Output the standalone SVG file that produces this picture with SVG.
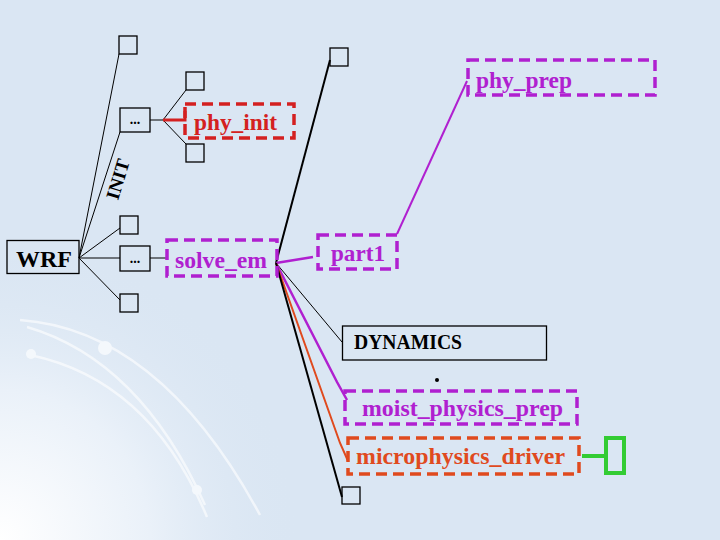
<svg xmlns="http://www.w3.org/2000/svg" width="720" height="540" viewBox="0 0 720 540">
<defs>
<radialGradient id="bgGlow" cx="0" cy="540" r="300" gradientUnits="userSpaceOnUse">
<stop offset="0" stop-color="#ffffff"/>
<stop offset="0.5" stop-color="#eaf1f9"/>
<stop offset="1" stop-color="#dae6f3" stop-opacity="0"/>
</radialGradient>
<style>
.box{fill:none;stroke:#000;stroke-width:1.3}
.thin{stroke:#000;stroke-width:1;fill:none}
.blk{stroke:#000;stroke-width:2;fill:none}
.dash{fill:none;stroke-width:3.5;stroke-dasharray:11 6}
.pur{stroke:#b020d0}
.red{stroke:#d42020}
.org{stroke:#e04a1e}
.lbl{font-family:"Liberation Serif",serif;font-weight:bold}
.swoosh{fill:none;stroke:#ffffff;stroke-width:2.5;opacity:0.6}
</style>
</defs>
<rect width="720" height="540" fill="#dae6f3"/>
<rect width="720" height="540" fill="url(#bgGlow)"/>
<g id="background-decoration">
<path class="swoosh" d="M20 320 Q160 330 260 515"/>
<path class="swoosh" d="M27 327 Q140 360 205 505"/>
<path class="swoosh" d="M30 355 Q150 380 207 517"/>
<circle cx="31" cy="354" r="5" fill="#f4f8fc"/>
<circle cx="105" cy="348" r="7" fill="#f4f8fc"/>
<circle cx="197" cy="490" r="5" fill="#f4f8fc"/>
</g>
<g id="connectors">
<line class="thin" x1="79" y1="258" x2="119" y2="54"/>
<line class="thin" x1="79" y1="258" x2="120" y2="132"/>
<line class="thin" x1="79" y1="258" x2="120" y2="228"/>
<line class="thin" x1="79" y1="258" x2="120" y2="258"/>
<line class="thin" x1="79" y1="258" x2="120" y2="300"/>
<line class="thin" x1="150" y1="258" x2="166" y2="258"/>
<line class="thin" x1="150" y1="120" x2="163" y2="120"/>
<line class="thin" x1="163" y1="120" x2="186" y2="90"/>
<line class="thin" x1="163" y1="120" x2="186" y2="144"/>
<polyline fill="none" stroke="#d42020" stroke-width="3" points="163,120 185,120 185,111"/>
<line class="blk" x1="276" y1="263" x2="330" y2="60"/>
<line stroke="#b020d0" stroke-width="2.5" x1="276" y1="263" x2="313" y2="257"/>
<line stroke="#b020d0" stroke-width="2" x1="397" y1="234" x2="467" y2="81"/>
<line class="thin" x1="276" y1="263" x2="342" y2="342"/>
<polyline fill="none" stroke="#b020d0" stroke-width="2.5" points="276,263 337,382 347,400"/>
<polyline fill="none" stroke="#e04a1e" stroke-width="2" points="276,263 340,443 348,461"/>
<line class="blk" x1="276" y1="263" x2="342" y2="497"/>
<line stroke="#33cc33" stroke-width="4" x1="582" y1="456" x2="606" y2="456"/>
</g>
<g id="WRF">
<rect class="box" x="7" y="240.5" width="72" height="33"/>
<text class="lbl" x="16" y="267" font-size="24" textLength="56" lengthAdjust="spacingAndGlyphs" fill="#000">WRF</text>
</g>
<g id="box-top"><rect class="box" x="119" y="36" width="18" height="18"/></g>
<g id="dots-init">
<rect class="box" x="120" y="108" width="30" height="24"/>
<text class="lbl" x="135" y="124" font-size="14" text-anchor="middle" fill="#000">...</text>
</g>
<g id="INIT">
<text class="lbl" x="0" y="0" font-size="19" text-anchor="middle" fill="#000" transform="translate(124,181) rotate(-73)">INIT</text>
</g>
<g id="box-init-a"><rect class="box" x="186" y="72" width="18" height="18"/></g>
<g id="box-init-b"><rect class="box" x="186" y="144" width="18" height="18"/></g>
<g id="phy_init">
<rect class="dash red" x="185" y="104" width="109" height="34"/>
<text class="lbl" x="194" y="130" font-size="24" textLength="83" lengthAdjust="spacingAndGlyphs" fill="#d42020">phy_init</text>
</g>
<g id="box-mid"><rect class="box" x="120" y="216" width="18" height="18"/></g>
<g id="dots-main">
<rect class="box" x="120" y="246" width="30" height="25"/>
<text class="lbl" x="135" y="263" font-size="14" text-anchor="middle" fill="#000">...</text>
</g>
<g id="box-low"><rect class="box" x="120" y="294" width="18" height="18"/></g>
<g id="solve_em">
<rect class="dash pur" x="167" y="240" width="110" height="36"/>
<text class="lbl" x="175" y="268" font-size="24" textLength="92" lengthAdjust="spacingAndGlyphs" fill="#b020d0">solve_em</text>
</g>
<g id="box-solve-top"><rect class="box" x="330" y="48" width="18" height="18"/></g>
<g id="part1">
<rect class="dash pur" x="318" y="235" width="79" height="34"/>
<text class="lbl" x="331" y="261" font-size="24" textLength="54" lengthAdjust="spacingAndGlyphs" fill="#b020d0">part1</text>
</g>
<g id="phy_prep">
<rect class="dash pur" x="468" y="60" width="187" height="35"/>
<text class="lbl" x="476" y="88" font-size="24" textLength="96" lengthAdjust="spacingAndGlyphs" fill="#b020d0">phy_prep</text>
</g>
<g id="DYNAMICS">
<rect class="box" x="342.5" y="326" width="204" height="34"/>
<text class="lbl" x="354" y="349" font-size="20" textLength="108" lengthAdjust="spacingAndGlyphs" fill="#000">DYNAMICS</text>
</g>
<g id="dot"><circle cx="437" cy="380" r="2" fill="#000"/></g>
<g id="moist_physics_prep">
<rect class="dash pur" x="345" y="391" width="232" height="33"/>
<text class="lbl" x="362" y="416" font-size="23" textLength="201" lengthAdjust="spacingAndGlyphs" fill="#b020d0">moist_physics_prep</text>
</g>
<g id="microphysics_driver">
<rect class="dash org" x="348" y="438" width="231" height="36"/>
<text class="lbl" x="356" y="464" font-size="23" textLength="209" lengthAdjust="spacingAndGlyphs" fill="#e04a1e">microphysics_driver</text>
</g>
<g id="green-box"><rect x="606" y="438" width="18" height="35" fill="none" stroke="#33cc33" stroke-width="4"/></g>
<g id="box-bottom"><rect class="box" x="342" y="487" width="18" height="17"/></g>
</svg>
